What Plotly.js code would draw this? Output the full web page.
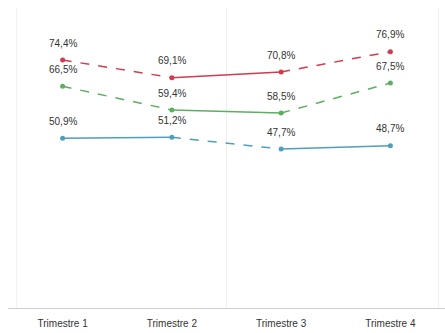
<!DOCTYPE html>
<html>
<head>
<meta charset="utf-8">
<script src="https://cdn.plot.ly/plotly-3.0.1.min.js"></script>
<style>
  html, body { margin: 0; padding: 0; background: #fff; }
  #chart { width: 445px; height: 333px; }
</style>
</head>
<body>
<div id="chart"></div>
<script>
// Quarterly percentages for three series
const quarters = ['Trimestre 1', 'Trimestre 2', 'Trimestre 3', 'Trimestre 4'];
const redValues = [74.4, 69.1, 70.8, 76.9];
const greenValues = [66.5, 59.4, 58.5, 67.5];
const blueValues = [50.9, 51.2, 47.7, 48.7];

// Line style of each segment between consecutive quarters
const redDashes = ['dash', 'solid', 'dash'];
const greenDashes = ['dash', 'solid', 'dash'];
const blueDashes = ['solid', 'dash', 'solid'];

const series = [
  { values: redValues, dashes: redDashes, color: '#d23a50' },
  { values: greenValues, dashes: greenDashes, color: '#5caf5f' },
  { values: blueValues, dashes: blueDashes, color: '#4e9fbd' }
];

const fmt = v => v.toFixed(1).replace('.', ',') + '%';
const labelFont = { family: 'Liberation Sans, Arial, sans-serif', size: 10, color: '#333' };

const traces = [];
const annotations = [];
series.forEach(s => {
  for (let i = 0; i < s.values.length - 1; i++) {
    traces.push({
      type: 'scatter',
      mode: 'lines',
      x: [quarters[i], quarters[i + 1]],
      y: [s.values[i], s.values[i + 1]],
      line: { color: s.color, width: 1.5, dash: s.dashes[i] },
      hoverinfo: 'skip',
      showlegend: false
    });
  }
  traces.push({
    type: 'scatter',
    mode: 'markers',
    x: quarters,
    y: s.values,
    marker: { color: s.color, size: 5 },
    showlegend: false
  });
  // value labels above each point
  s.values.forEach((v, i) => {
    annotations.push({
      x: quarters[i], y: v, xref: 'x', yref: 'y',
      text: fmt(v), showarrow: false,
      yshift: 17, font: labelFont
    });
  });
});

const layout = {
  width: 445,
  height: 333,
  margin: { l: 8, r: 0, t: 8, b: 25 },
  paper_bgcolor: '#ffffff',
  plot_bgcolor: '#ffffff',
  showlegend: false,
  xaxis: {
    type: 'category',
    range: [-0.5, 3.5],
    showgrid: false,
    zeroline: false,
    showline: true,
    linecolor: '#cfcfcf',
    linewidth: 1,
    ticks: '',
    ticklabelstandoff: 6,
    tickfont: labelFont,
    fixedrange: true
  },
  yaxis: {
    range: [0, 90],
    showgrid: false,
    zeroline: false,
    showline: false,
    showticklabels: false,
    ticks: '',
    fixedrange: true
  },
  annotations: annotations,
  shapes: [0.02, 0.5, 0.985].map(px => ({
    type: 'line', xref: 'paper', yref: 'paper',
    x0: px, x1: px, y0: 0, y1: 1,
    line: { color: '#f0f0f0', width: 1 },
    layer: 'below'
  }))
};

Plotly.newPlot('chart', traces, layout, { displayModeBar: false, staticPlot: true });
</script>
</body>
</html>
